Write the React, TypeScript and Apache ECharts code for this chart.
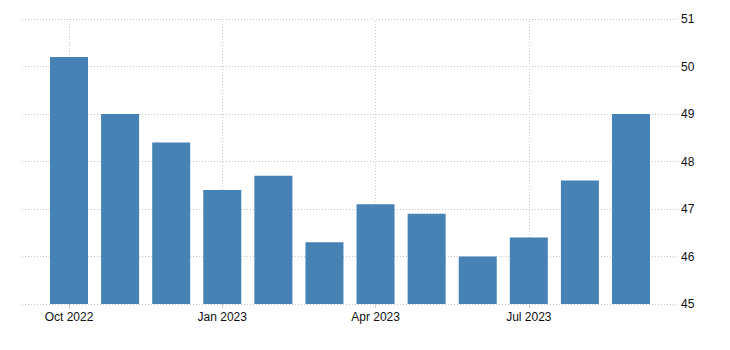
import React, { useEffect, useRef } from "react";
import * as echarts from "echarts";

const months = [
  "Oct 2022", "Nov 2022", "Dec 2022", "Jan 2023", "Feb 2023", "Mar 2023",
  "Apr 2023", "May 2023", "Jun 2023", "Jul 2023", "Aug 2023", "Sep 2023",
];
const values = [50.2, 49.0, 48.4, 47.4, 47.7, 46.3, 47.1, 46.9, 46.0, 46.4, 47.6, 49.0];
const labeledIdx = [0, 3, 6, 9];
const yTicks = [45, 46, 47, 48, 49, 50, 51];

const gridColor = "#c8c8c8";

export default function App() {
  const ref = useRef<HTMLDivElement>(null);
  useEffect(() => {
    if (!ref.current) return;
    const chart = echarts.init(ref.current, null, { renderer: "svg" });
    chart.setOption({
      animation: false,
      backgroundColor: "#ffffff",
      grid: { left: 22, right: 52, top: 19, bottom: 46, containLabel: false },
      xAxis: {
        type: "value",
        min: -0.92,
        max: 11.92,
        axisLine: { show: false },
        splitLine: { show: false },
        axisTick: {
          show: true,
          customValues: labeledIdx,
          length: 4,
          lineStyle: { color: gridColor, width: 1 },
        },
        axisLabel: {
          customValues: labeledIdx,
          formatter: (v: number) => months[Math.round(v)] ?? "",
          color: "#111",
          fontSize: 12,
          fontFamily: "Liberation Sans, Arial, sans-serif",
          margin: 7,
        },
      },
      yAxis: {
        type: "value",
        position: "right",
        min: yTicks[0],
        max: yTicks[yTicks.length - 1],
        interval: 1,
        axisLine: { show: false },
        axisTick: { show: false },
        axisLabel: {
          color: "#111",
          fontSize: 12,
          fontFamily: "Liberation Sans, Arial, sans-serif",
          margin: 3,
        },
        splitLine: {
          show: true,
          lineStyle: { color: gridColor, width: 1, type: [1, 2] },
        },
      },
      series: [
        {
          type: "line",
          data: [],
          z: 0,
          silent: true,
          markLine: {
            silent: true,
            symbol: "none",
            label: { show: false },
            lineStyle: { color: gridColor, width: 1, type: [1, 2] },
            data: labeledIdx.map((i) => ({ xAxis: i })),
          },
        },
        {
          type: "bar",
          data: values.map((v, i) => [i, v]),
          barWidth: 38,
          itemStyle: { color: "#4682b4" },
          z: 5,
        },
      ],
    });
    return () => chart.dispose();
  }, []);
  return (
    <div
      ref={ref}
      style={{ position: "absolute", left: 0, top: 0, width: 730, height: 350 }}
    />
  );
}
